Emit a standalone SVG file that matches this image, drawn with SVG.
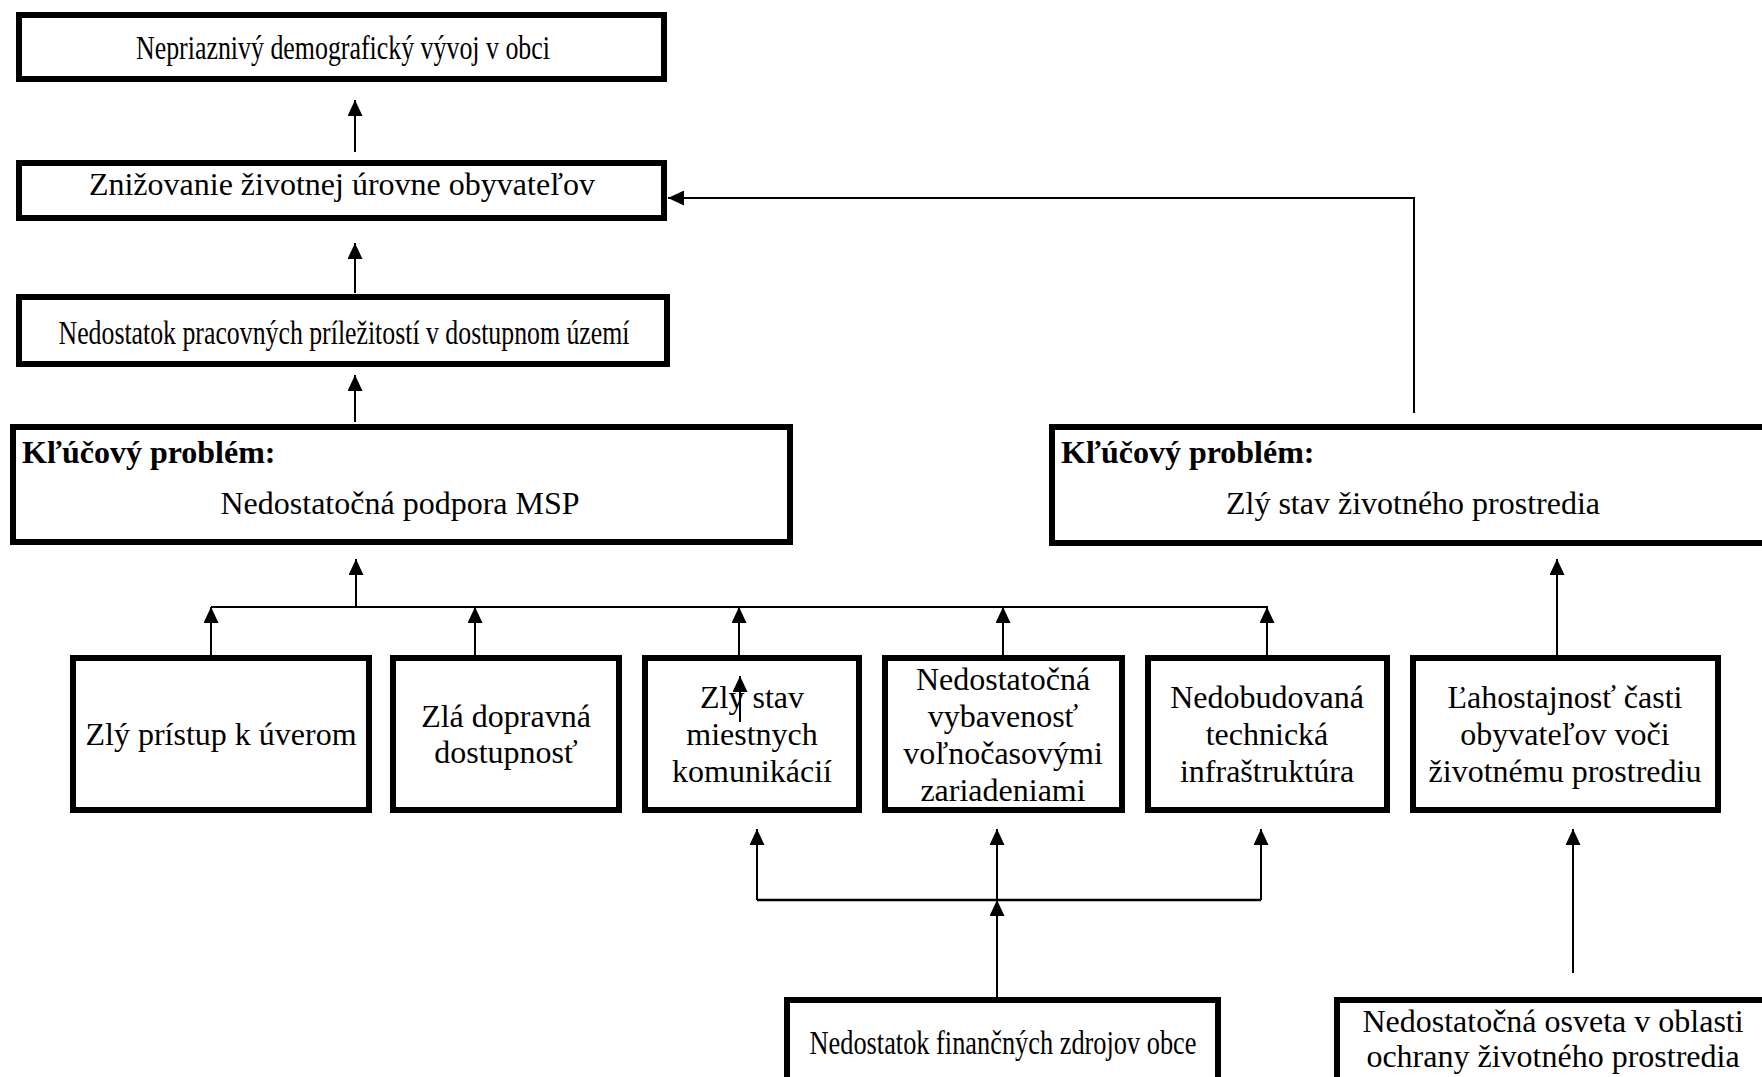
<svg xmlns="http://www.w3.org/2000/svg" width="1762" height="1077" viewBox="0 0 1762 1077">
<style>
.box{fill:#fff;stroke:#000;stroke-width:6}
.t{font-family:"Liberation Serif","Times New Roman",serif;font-size:32px;fill:#000;text-anchor:middle}
.c{font-family:"Liberation Serif","Times New Roman",serif;font-size:34px;fill:#000;text-anchor:middle}
.b{font-family:"Liberation Serif","Times New Roman",serif;font-size:32px;font-weight:bold;fill:#000}
.ln{fill:none;stroke:#000;stroke-width:2}
</style>
<defs>
<marker id="ah" markerUnits="userSpaceOnUse" markerWidth="16" markerHeight="15" refX="16" refY="7.5" orient="auto" viewBox="0 0 16 15">
<path d="M0,0 L16,7.5 L0,15 z" fill="#000"/>
</marker>
</defs>
<rect width="1762" height="1077" fill="#fff"/>

<g id="connectors">
<path class="ln" d="M355,152 L355,100" marker-end="url(#ah)"/>
<path class="ln" d="M355,293 L355,243" marker-end="url(#ah)"/>
<path class="ln" d="M355,422 L355,375" marker-end="url(#ah)"/>
<path class="ln" d="M356,607 L356,559" marker-end="url(#ah)"/>
<path class="ln" d="M211,607 L1268,607"/>
<path class="ln" d="M211,655 L211,607" marker-end="url(#ah)"/>
<path class="ln" d="M475,655 L475,607" marker-end="url(#ah)"/>
<path class="ln" d="M739,655 L739,607" marker-end="url(#ah)"/>
<path class="ln" d="M1003,655 L1003,607" marker-end="url(#ah)"/>
<path class="ln" d="M1267,655 L1267,607" marker-end="url(#ah)"/>
<path class="ln" d="M1557,655 L1557,559" marker-end="url(#ah)"/>
<path class="ln" d="M1414,413 L1414,198 L668,198" marker-end="url(#ah)"/>
<path class="ln" d="M997,997 L997,900" marker-end="url(#ah)"/>
<path class="ln" style="stroke-width:2.5" d="M757,900 L1261,900"/>
<path class="ln" d="M757,900 L757,829" marker-end="url(#ah)"/>
<path class="ln" d="M997,900 L997,829" marker-end="url(#ah)"/>
<path class="ln" d="M1261,900 L1261,829" marker-end="url(#ah)"/>
<path class="ln" d="M1573,973 L1573,829" marker-end="url(#ah)"/>
</g>

<g id="n-demograficky">
<rect class="box" x="19" y="15" width="645" height="64"/>
<text class="c" x="343" y="59" textLength="414" lengthAdjust="spacingAndGlyphs">Nepriaznivý demografický vývoj v obci</text>
</g>
<g id="n-zivotna-uroven">
<rect class="box" x="19" y="163" width="645" height="55"/>
<text class="t" x="342" y="195">Znižovanie životnej úrovne obyvateľov</text>
</g>
<g id="n-pracovne-prilezitosti">
<rect class="box" x="19" y="297" width="648" height="67"/>
<text class="c" x="344" y="344" textLength="571" lengthAdjust="spacingAndGlyphs">Nedostatok pracovných príležitostí v dostupnom území</text>
</g>
<g id="n-msp">
<rect class="box" x="13" y="427" width="777" height="115"/>
<text class="b" x="22" y="463">Kľúčový problém:</text>
<text class="t" x="400" y="514">Nedostatočná podpora MSP</text>
</g>
<g id="n-zivotne-prostredie">
<rect class="box" x="1052" y="427" width="720" height="116"/>
<text class="b" x="1061" y="463">Kľúčový problém:</text>
<text class="t" x="1413" y="514">Zlý stav životného prostredia</text>
</g>

<g id="n-uvery">
<rect class="box" x="73" y="658" width="296" height="152"/>
<text class="t" x="221" y="745">Zlý prístup k úverom</text>
</g>
<g id="n-doprava">
<rect class="box" x="393" y="658" width="226" height="152"/>
<text class="t" x="506" y="727">Zlá dopravná</text>
<text class="t" x="506" y="763">dostupnosť</text>
</g>
<g id="n-komunikacie">
<rect class="box" x="645" y="658" width="214" height="152"/>
<text class="t" x="752" y="708">Zlý stav</text>
<text class="t" x="752" y="745">miestnych</text>
<text class="t" x="752" y="782">komunikácií</text>
<path class="ln" d="M740,722 L740,676" marker-end="url(#ah)"/>
</g>
<g id="n-volnocas">
<rect class="box" x="885" y="658" width="237" height="152"/>
<text class="t" x="1003" y="690">Nedostatočná</text>
<text class="t" x="1003" y="727">vybavenosť</text>
<text class="t" x="1003" y="764">voľnočasovými</text>
<text class="t" x="1003" y="801">zariadeniami</text>
</g>
<g id="n-infrastruktura">
<rect class="box" x="1148" y="658" width="239" height="152"/>
<text class="t" x="1267" y="708">Nedobudovaná</text>
<text class="t" x="1267" y="745">technická</text>
<text class="t" x="1267" y="782">infraštruktúra</text>
</g>
<g id="n-lahostajnost">
<rect class="box" x="1413" y="658" width="305" height="152"/>
<text class="t" x="1565" y="708">Ľahostajnosť časti</text>
<text class="t" x="1565" y="745">obyvateľov voči</text>
<text class="t" x="1565" y="782">životnému prostrediu</text>
</g>

<g id="n-financie">
<rect class="box" x="787" y="1000" width="431" height="100"/>
<text class="c" x="1003" y="1054" textLength="387" lengthAdjust="spacingAndGlyphs">Nedostatok finančných  zdrojov obce</text>
</g>
<g id="n-osveta">
<rect class="box" x="1337" y="1000" width="440" height="100"/>
<text class="t" x="1553" y="1032">Nedostatočná osveta v oblasti</text>
<text class="t" x="1553" y="1067">ochrany životného prostredia</text>
</g>
</svg>
